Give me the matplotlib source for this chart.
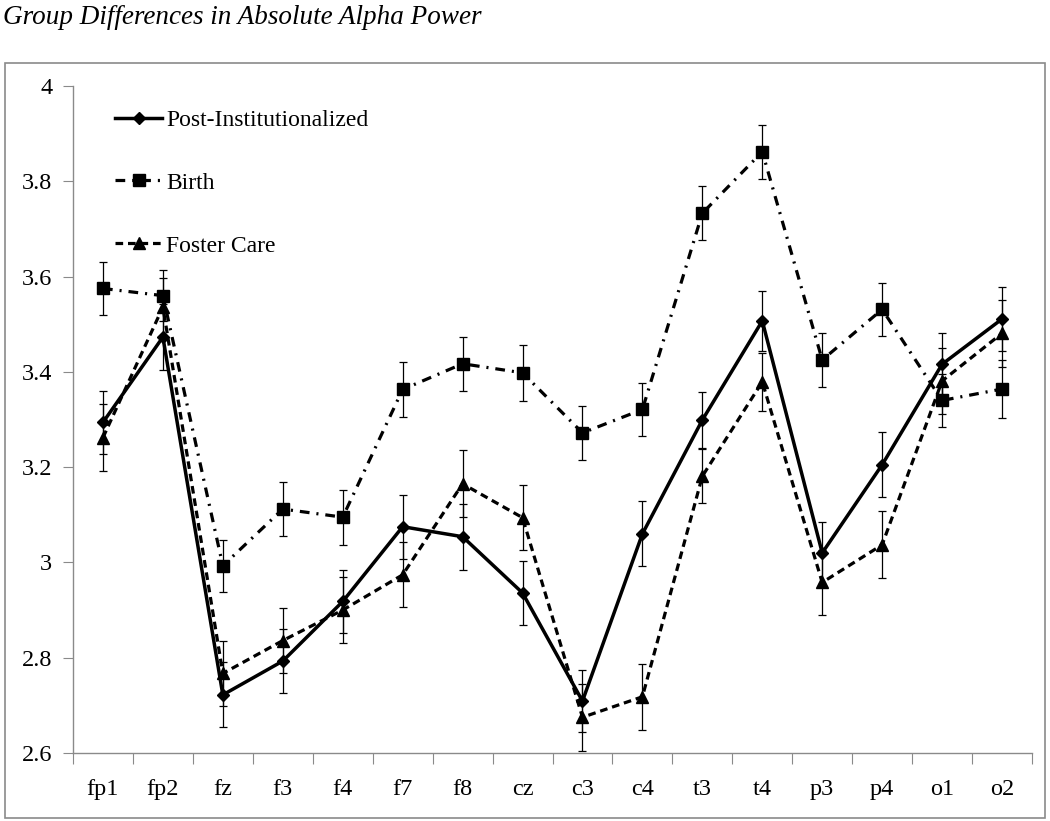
import numpy as np
import matplotlib.pyplot as plt
from matplotlib.patches import Rectangle
from matplotlib.ticker import FuncFormatter

plt.rcParams['font.family'] = ['Liberation Serif', 'DejaVu Serif']
plt.rcParams['lines.scale_dashes'] = False

# electrode sites
sites = ['fp1', 'fp2', 'fz', 'f3', 'f4', 'f7', 'f8', 'cz',
         'c3', 'c4', 't3', 't4', 'p3', 'p4', 'o1', 'o2']

# group means
post_inst = [3.294, 3.473, 2.722, 2.793, 2.918, 3.075, 3.054, 2.936,
             2.709, 3.060, 3.299, 3.507, 3.020, 3.205, 3.416, 3.511]
birth = [3.575, 3.560, 2.993, 3.112, 3.095, 3.363, 3.417, 3.398,
         3.272, 3.321, 3.733, 3.862, 3.425, 3.531, 3.340, 3.364]
foster = [3.262, 3.536, 2.767, 2.836, 2.900, 2.974, 3.165, 3.094,
          2.675, 2.718, 3.181, 3.379, 2.958, 3.037, 3.381, 3.481]

# standard errors
post_inst_se = [0.066, 0.070, 0.068, 0.068, 0.066, 0.067, 0.069, 0.067,
                0.065, 0.068, 0.058, 0.063, 0.065, 0.068, 0.066, 0.067]
birth_se = [0.056, 0.053, 0.055, 0.056, 0.058, 0.057, 0.057, 0.059,
            0.056, 0.056, 0.057, 0.057, 0.057, 0.056, 0.055, 0.060]
foster_se = [0.070, 0.062, 0.069, 0.069, 0.070, 0.068, 0.070, 0.068,
             0.070, 0.069, 0.057, 0.061, 0.068, 0.070, 0.070, 0.070]

x = np.arange(len(sites))

fig = plt.figure(figsize=(10.5, 8.21), dpi=100)
ax = fig.add_axes([73 / 1050, 1 - 753 / 821, 959 / 1050, 667 / 821])

# outer frame round the chart
fig.patches.append(Rectangle((5 / 1050, 1 - 818 / 821), 1040 / 1050, 755 / 821,
                             transform=fig.transFigure, fill=False,
                             edgecolor='#8a8a8a', lw=1.2))

fig.text(3 / 1050, 1 - 17 / 821, 'Group Differences in Absolute Alpha Power',
         fontsize=19.5, style='italic', va='center', ha='left')

err_kw = dict(ecolor='black', elinewidth=0.9, capsize=2.9, capthick=0.9)

pi_plot = ax.errorbar(x, post_inst, yerr=post_inst_se, color='black', lw=2.5,
                      ls='-', marker='D', ms=6.5, **err_kw)
b_plot = ax.errorbar(x, birth, yerr=birth_se, color='black', lw=2.3,
                     ls=(0, (7, 5, 1.5, 5)), marker='s', ms=8.5, **err_kw)
fc_plot = ax.errorbar(x, foster, yerr=foster_se, color='black', lw=2.3,
                      ls=(0, (5.5, 3.5)), marker='^', ms=9, **err_kw)

ax.set_xlim(-0.5, len(sites) - 0.5)
ax.set_ylim(2.6, 4.0)
ax.set_yticks(np.arange(2.6, 4.01, 0.2))
ax.yaxis.set_major_formatter(FuncFormatter(lambda v, p: f'{v:g}'))

# ticks between the categories, labels under the centres
ax.set_xticks(np.arange(-0.5, len(sites), 1.0))
ax.set_xticklabels([])
ax.set_xticks(x, minor=True)
ax.set_xticklabels(sites, minor=True)
ax.tick_params(axis='x', which='major', length=8, color='#8a8a8a', direction='out')
ax.tick_params(axis='x', which='minor', length=0, pad=19, labelsize=17.5)
ax.tick_params(axis='y', length=7, color='#8a8a8a', pad=8, labelsize=17.5)

for s in ['top', 'right']:
    ax.spines[s].set_visible(False)
for s in ['left', 'bottom']:
    ax.spines[s].set_color('#8a8a8a')
    ax.spines[s].set_linewidth(1.0)

# legend from the plain lines, without the error bars
ax.legend([pi_plot[0], b_plot[0], fc_plot[0]],
          ['Post-Institutionalized', 'Birth', 'Foster Care'],
          loc='upper left', bbox_to_anchor=(0.044, 0.965), frameon=False,
          fontsize=17, handlelength=2.0, handletextpad=0.15,
          labelspacing=1.75, borderpad=0, borderaxespad=0, numpoints=1)

fig.savefig('out.png', dpi=100)
